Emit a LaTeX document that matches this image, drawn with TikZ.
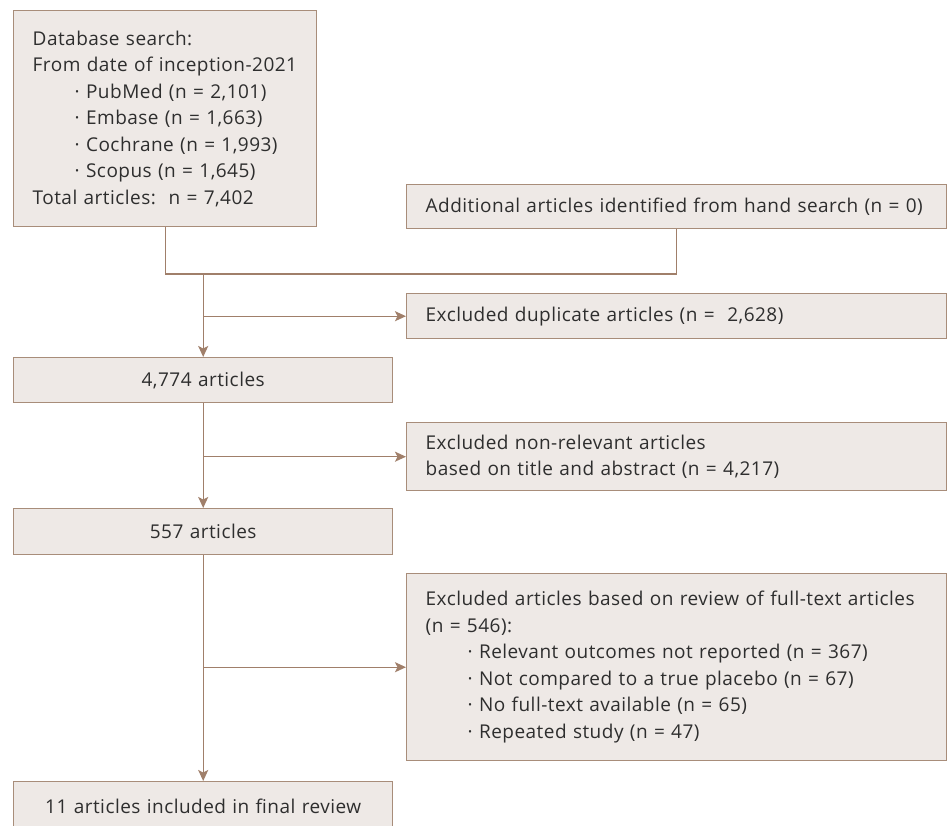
\documentclass[tikz,border=0pt]{standalone}
\usepackage{fontspec}
\setmainfont[LetterSpace=2.5]{Open Sans}
\usetikzlibrary{positioning,arrows.meta}
\definecolor{boxline}{HTML}{A88D7A}
\definecolor{boxfill}{HTML}{EEE9E6}
\definecolor{flowline}{HTML}{A07F6A}
\definecolor{txt}{HTML}{2E2E2E}
\newcommand{\itm}[1]{\hspace*{42pt}\textperiodcentered\ #1}

\begin{document}
\begin{tikzpicture}[x=1pt, y=-1pt,
		font=\fontsize{19}{26.5}\selectfont,
		box/.style={draw=boxline, fill=boxfill, line width=1.4pt, anchor=north west, inner xsep=19pt, inner ysep=0pt, text=txt, align=left},
		mid/.style={box, align=center, text width=341pt, minimum width=379pt},
		side/.style={box, text width=502pt, minimum width=540pt},
		flow/.style={draw=flowline, line width=1.4pt},
		arr/.style={flow, -{Stealth[length=11pt, width=10pt, inset=2.5pt]}}]
		\useasboundingbox (0,0) rectangle (950,825);
		\node[box, text width=265pt, minimum width=303pt, minimum height=216pt] (db) at (13,10) {Database search:\\
			From date of inception-2021\\
			\itm{PubMed (n = 2,101)}\\
			\itm{Embase (n = 1,663)}\\
			\itm{Cochrane (n = 1,993)}\\
			\itm{Scopus (n = 1,645)}\\
			Total articles:\ \ n = 7,402};
		\node[side, minimum height=44pt] (hand) at (406,184) {Additional articles identified from hand search (n = 0)};
		\node[side, minimum height=45pt] (dup) at (406,293) {Excluded duplicate articles (n =\ \ 2,628)};
		\node[side, minimum height=68pt] (nonrel) at (406,422) {Excluded non-relevant articles\\ based on title and abstract (n = 4,217)};
		\node[side, minimum height=187pt] (full) at (406,573) {Excluded articles based on review of full-text articles\\
			(n = 546):\\
			\itm{Relevant outcomes not reported (n = 367)}\\
			\itm{Not compared to a true placebo (n = 67)}\\
			\itm{No full-text available (n = 65)}\\
			\itm{Repeated study (n = 47)}};
		\node[mid, minimum height=45pt] (a4774) at (13,357) {4,774 articles};
		\node[mid, minimum height=46pt] (a557) at (13,508) {557 articles};
		\node[mid, minimum height=50pt] (final) at (13,781) {11 articles included in final review};
		\coordinate (j1) at (203,274);
		\draw[flow] (db.south) |- (hand.south |- j1) -- (hand.south);
		\path
			(a4774.north |- j1) edge[arr] (a4774.north)
			(a4774.north |- dup.west) edge[arr] (dup.west)
			(a4774.south) edge[arr] (a557.north)
			(a4774.south |- nonrel.west) edge[arr] (nonrel.west)
			(a557.south) edge[arr] (final.north)
			(a557.south |- full.west) edge[arr] (full.west);
	\end{tikzpicture}
\end{document}
